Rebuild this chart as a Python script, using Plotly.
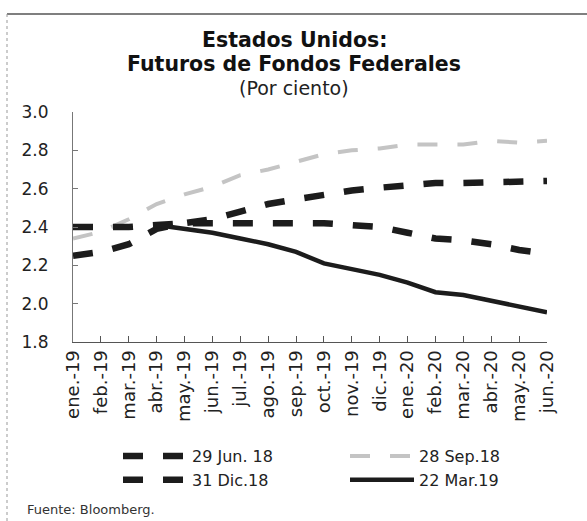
import plotly.graph_objects as go

months = ["ene.-19", "feb.-19", "mar.-19", "abr.-19", "may.-19", "jun.-19", "jul.-19",
          "ago.-19", "sep.-19", "oct.-19", "nov.-19", "dic.-19", "ene.-20", "feb.-20",
          "mar.-20", "abr.-20", "may.-20", "jun.-20"]

jun18 = [2.25, 2.27, 2.31, 2.39, 2.42, 2.44, 2.48, 2.52, 2.545, 2.57, 2.59, 2.605,
         2.62, 2.63, 2.63, 2.635, 2.64, 2.64]
sep18 = [2.34, 2.375, 2.44, 2.52, 2.57, 2.61, 2.67, 2.70, 2.74, 2.78, 2.80, 2.81,
         2.83, 2.83, 2.83, 2.85, 2.84, 2.85]
dic18 = [2.40, 2.40, 2.40, 2.41, 2.42, 2.42, 2.42, 2.42, 2.42, 2.42, 2.41, 2.40,
         2.37, 2.34, 2.33, 2.31, 2.28, 2.26]
mar19 = [None, None, None, 2.41, 2.39, 2.37, 2.34, 2.31, 2.27, 2.21, 2.18, 2.15,
         2.11, 2.06, 2.045, 2.015, 1.98, 1.955]

y_ticks = [1.8, 2.0, 2.2, 2.4, 2.6, 2.8, 3.0]
y_ticktext = ["1.8", "2.0", "2.2", "2.4", "2.6", "2.8", "3.0"]

FONT = "DejaVu Sans"
BLACK = "#1c1c1c"
GRAY = "#c4c4c4"

fig = go.Figure()
fig.add_trace(go.Scatter(x=months, y=jun18, name="29 Jun. 18", mode="lines",
                         line=dict(color=BLACK, width=6.5, dash="20px,20px")))
fig.add_trace(go.Scatter(x=months, y=sep18, name="28 Sep.18", mode="lines",
                         line=dict(color=GRAY, width=4, dash="20px,20px")))
fig.add_trace(go.Scatter(x=months, y=dic18, name="31 Dic.18", mode="lines",
                         line=dict(color=BLACK, width=6.5, dash="20px,20px")))
fig.add_trace(go.Scatter(x=months, y=mar19, name="22 Mar.19", mode="lines",
                         line=dict(color=BLACK, width=4.5)))

W, H = 587, 521
L, R, T, B = 73, 40, 112, 179
pw, ph = W - L - R, H - T - B

def px(xp):
    return (xp - L) / pw

def py(yp):
    return (H - B - yp) / ph

annotations = [
    dict(text="<b>Estados Unidos:</b>", y=py(40), font=dict(size=20.5, color="#111")),
    dict(text="<b>Futuros de Fondos Federales</b>", y=py(64), font=dict(size=20.5, color="#111")),
    dict(text="(Por ciento)", y=py(88), font=dict(size=19, color="#222")),
]
for a in annotations:
    a.update(x=px(294), xref="paper", yref="paper", showarrow=False,
             xanchor="center", yanchor="middle")
annotations.append(dict(text="Fuente: Bloomberg.", x=px(25), y=py(509), xref="paper", yref="paper",
                        showarrow=False, xanchor="left", yanchor="middle",
                        font=dict(size=13, color="#333")))

shapes = [
    dict(type="line", xref="paper", yref="paper", x0=px(7), x1=px(590), y0=py(14), y1=py(14),
         line=dict(color="#555", width=1.5)),
    dict(type="line", xref="paper", yref="paper", x0=px(7), x1=px(7), y0=py(14), y1=py(525),
         line=dict(color="#999", width=1, dash="dot")),
]

fig.update_layout(
    width=W, height=H,
    margin=dict(l=L, r=R, t=T, b=B, autoexpand=False),
    paper_bgcolor="white", plot_bgcolor="white",
    font=dict(family=FONT, color="#222"),
    showlegend=True,
    legend=dict(orientation="h", x=px(118), y=py(439), xanchor="left", yanchor="top",
                entrywidth=148, entrywidthmode="pixels", itemwidth=64,
                font=dict(size=16, color="#222"), bgcolor="rgba(0,0,0,0)",
                traceorder="normal"),
    annotations=annotations,
    shapes=shapes,
    xaxis=dict(type="category", range=[0, len(months) - 1], showgrid=False, zeroline=False,
               showline=True, linecolor="#555", linewidth=1,
               ticks="inside", ticklen=6, tickcolor="#555",
               tickangle=-90, tickfont=dict(size=18, color="#222"), automargin=False),
    yaxis=dict(range=[1.8, 3.0], tickvals=y_ticks, ticktext=y_ticktext, showgrid=False,
               zeroline=False, showline=True, linecolor="#777", linewidth=1,
               ticks="inside", ticklen=5, tickcolor="#777",
               tickfont=dict(size=17, color="#222"), ticklabelstandoff=20, automargin=False),
)

fig.write_html("out.html", config={"displayModeBar": False},
               post_script="document.body.style.margin='0';")
